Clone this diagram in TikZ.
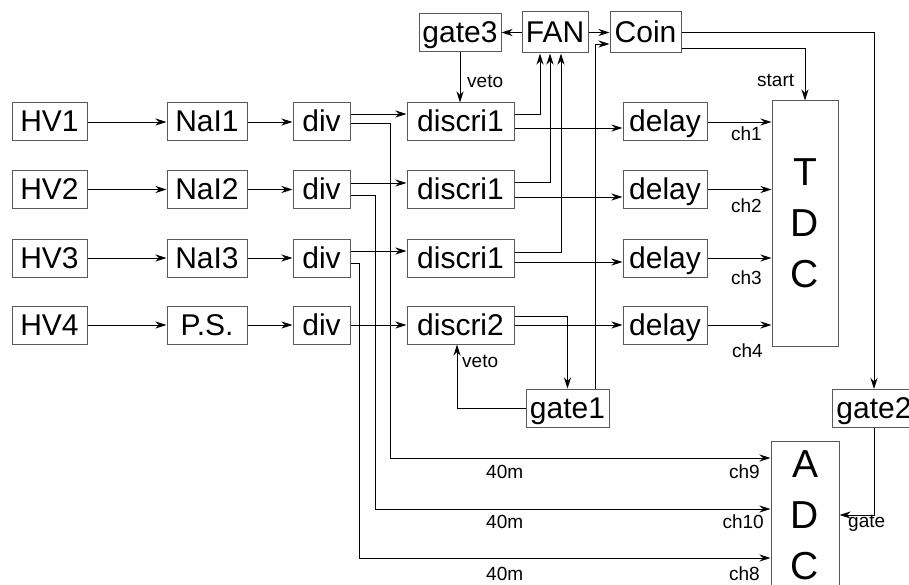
\documentclass[tikz,border=0pt]{standalone}
\usepackage{fontspec}
\setmainfont{Liberation Sans}
\usetikzlibrary{arrows.meta}
\begin{document}
\begin{tikzpicture}[x=1pt,y=-1pt,
  box/.style={draw=black!65, line width=1pt, inner sep=0pt, minimum height=38pt,
              text height=22pt, text depth=2pt,
              font=\fontsize{30}{36}\selectfont},
  big/.style={draw=black!65, line width=1pt, inner sep=0pt, align=center,
              font=\fontsize{39}{51}\selectfont},
  wire/.style={line width=0.9pt, black},
  arr/.style={wire, -{Stealth[length=11pt,width=7pt,inset=3.5pt]}},
  lbl/.style={font=\fontsize{19}{22}\selectfont, inner sep=0pt}]
\useasboundingbox (0,0) rectangle (909,585);
\clip (0,0) rectangle (909,585);
% column 1: HV
\node[box, minimum width=75pt] (hv1) at (49.5,122) {HV1};
\node[box, minimum width=75pt] (hv2) at (49.5,189.5) {HV2};
\node[box, minimum width=75pt] (hv3) at (49.5,258) {HV3};
\node[box, minimum width=75pt] (hv4) at (49.5,325) {HV4};
% column 2
\node[box, minimum width=80pt] (nai1) at (207,122) {NaI1};
\node[box, minimum width=80pt] (nai2) at (207,189.5) {NaI2};
\node[box, minimum width=80pt] (nai3) at (207,258) {NaI3};
\node[box, minimum width=80pt] (ps) at (207,325) {P.S.};
% column 3
\node[box, minimum width=57pt] (div1) at (321.5,122) {div};
\node[box, minimum width=57pt] (div2) at (321.5,189.5) {div};
\node[box, minimum width=57pt] (div3) at (321.5,258) {div};
\node[box, minimum width=57pt] (div4) at (321.5,325) {div};
% column 4
\node[box, minimum width=107pt] (dA) at (460.5,122) {discri1};
\node[box, minimum width=107pt] (dB) at (460.5,189.5) {discri1};
\node[box, minimum width=107pt] (dC) at (460.5,258) {discri1};
\node[box, minimum width=107pt] (dD) at (460.5,325) {discri2};
% column 5
\node[box, minimum width=84pt] (del1) at (665,122) {delay};
\node[box, minimum width=84pt] (del2) at (665,189.5) {delay};
\node[box, minimum width=84pt] (del3) at (665,258) {delay};
\node[box, minimum width=84pt] (del4) at (665,325) {delay};
% top row
\node[box, minimum width=82pt] (gate3) at (460,33) {gate3};
\node[box, minimum width=66pt, minimum height=41pt] (fan) at (555,32.5) {FAN};
\node[box, minimum width=71pt, minimum height=41pt] (coin) at (645.5,32.5) {Coin};
% gates
\node[box, minimum width=83pt] (gate1) at (567.5,408) {gate1};
\node[box, minimum width=83pt] (gate2) at (874,408.5) {gate2};
% TDC / ADC
\node[big, minimum width=66pt, minimum height=245pt] (tdc) at (805,223.5) {T\\D\\C};
\node[big, minimum width=68pt, minimum height=148pt] (adc) at (805,515) {A\\D\\C};
% chains
\foreach \a/\b in {hv1/nai1,hv2/nai2,hv3/nai3,hv4/ps,nai1/div1,nai2/div2,nai3/div3,ps/div4}
  \draw[arr] (\a) -- (\b);
% div -> discri
\draw[arr] ([yshift=8pt]div1.east) -- ([yshift=8pt]dA.west);
\draw[arr] ([yshift=6.5pt]div2.east) -- ([yshift=6.5pt]dB.west);
\draw[arr] ([yshift=7pt]div3.east) -- ([yshift=7pt]dC.west);
\draw[arr] (div4) -- (dD);
% div -> ADC (40m)
\draw[arr] ([yshift=-1pt]div1.east) -- ++(40,0) |- ([yshift=57pt]adc.west);
\draw[arr] ([yshift=-5.5pt]div2.east) -- ++(25,0) |- ([yshift=6pt]adc.west);
\draw[arr] ([yshift=-5pt]div3.east) -- ++(9,0) |- ([yshift=-43pt]adc.west);
% discri -> FAN
\draw[arr] ([yshift=8pt]dA.east) -| ([xshift=-15pt]fan.south);
\draw[arr] ([yshift=7.5pt]dB.east) -| ([xshift=-5pt]fan.south);
\draw[arr] ([yshift=6pt]dC.east) -| ([xshift=6pt]fan.south);
% discri -> delay
\draw[arr] ([yshift=-6pt]dA.east) -- ([yshift=-6pt]del1.west);
\draw[arr] ([yshift=-7.5pt]dB.east) -- ([yshift=-7.5pt]del2.west);
\draw[arr] ([yshift=-4pt]dC.east) -- ([yshift=-4pt]del3.west);
\draw[arr] (dD) -- (del4);
% delay -> TDC
\foreach \d in {del1,del2,del3,del4}
  \draw[arr] (\d.east) -- (\d.east -| tdc.west);
% discri2 <-> gate1
\draw[arr] ([yshift=9pt]dD.east) -| (gate1.north);
\draw[arr] (gate1.west) -| ([xshift=-3.5pt]dD.south);
% gate1 -> Coin
\draw[arr] ([xshift=27.5pt]gate1.north) |- ([yshift=-11.5pt]coin.west);
% FAN -> gate3, FAN -> Coin
\draw[arr] (fan.west) -- (fan.west -| gate3.east);
\draw[arr] (fan.east) -- (coin.west);
% gate3 -> discri1 veto
\draw[arr] (gate3.south) -- (gate3.south |- dA.north);
% Coin -> gate2, Coin -> TDC
\draw[arr] (coin.east) -| (gate2.north);
\draw[arr] ([yshift=-15.5pt]coin.east) -| (tdc.north);
% gate2 -> ADC
\draw[arr] (gate2.south) |- (adc.east);
% labels
\node[lbl, anchor=base west] (lveto1) at (467,88) {veto};
\node[lbl, anchor=base west] (lveto2) at (462,367) {veto};
\node[lbl, anchor=base west] (lstart) at (757,87) {start};
\node[lbl, anchor=base east] (lch1) at (762,141) {ch1};
\node[lbl, anchor=base east] (lch2) at (762,213) {ch2};
\node[lbl, anchor=base east] (lch3) at (762,284) {ch3};
\node[lbl, anchor=base east] (lch4) at (763,357) {ch4};
\node[lbl, anchor=base east] (lch9) at (760,478) {ch9};
\node[lbl, anchor=base east] (lch10) at (764,528) {ch10};
\node[lbl, anchor=base east] (lch8) at (760,580) {ch8};
\node[lbl, anchor=base west] (lm1) at (486,478) {40m};
\node[lbl, anchor=base west] (lm2) at (486,528) {40m};
\node[lbl, anchor=base west] (lm3) at (486,580) {40m};
\node[lbl, anchor=base west] (lgate) at (848,527) {gate};
\end{tikzpicture}
\end{document}
